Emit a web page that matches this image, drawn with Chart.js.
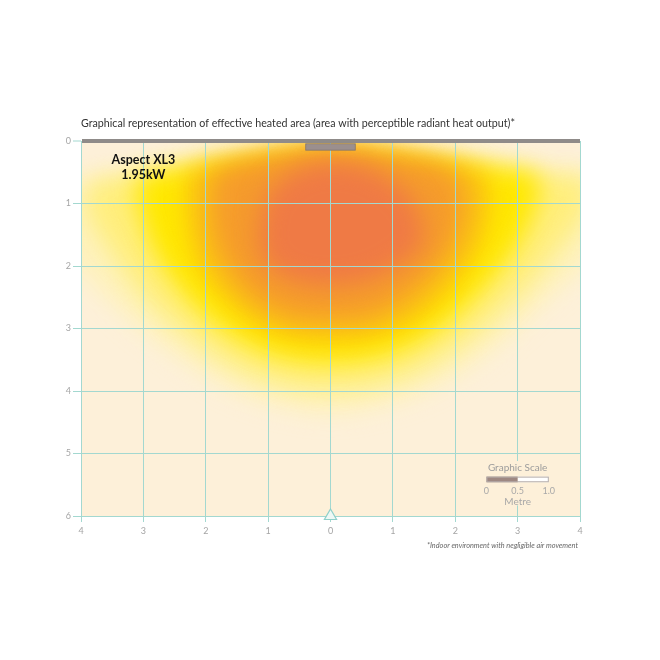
<!DOCTYPE html>
<html>
<head>
<meta charset="utf-8">
<script src="https://cdn.jsdelivr.net/npm/chart.js@4.4.0/dist/chart.umd.min.js"></script>
<style>
body{margin:0;background:#fff;}
canvas{display:block;}
</style>
</head>
<body>
<canvas id="heat" width="660" height="660"></canvas>
<script>
// axis ticks, metres
const xTicks = [-4, -3, -2, -1, 0, 1, 2, 3, 4];
const yTicks = [0, 1, 2, 3, 4, 5, 6];

// heat zones: each is a band between a top edge and a bottom edge (depth in metres)
const coreX   = [-1.15, -1.0, -0.5, 0, 0.5, 1.0, 1.35, 1.5];
const coreTop = [1.5, 0.85, 0.45, 0.35, 0.4, 0.65, 1.0, 1.5];
const coreBot = [1.6, 2.0, 2.25, 2.3, 2.25, 2.05, 1.8, 1.6];

const orangeX   = [-1.9, -1.7, -1.2, -0.6, 0, 0.6, 1.2, 1.8, 2.1];
const orangeTop = [0.6, 0.45, 0.3, 0.18, 0.12, 0.18, 0.28, 0.42, 0.7];
const orangeBot = [1.3, 1.9, 2.5, 2.8, 2.85, 2.8, 2.5, 1.9, 1.3];

const goldX   = [-2.3, -2.1, -1.5, -0.8, 0, 0.8, 1.5, 2.2, 2.5];
const goldTop = [0.6, 0.42, 0.3, 0.2, 0.1, 0.18, 0.27, 0.4, 0.6];
const goldBot = [1.2, 2.0, 2.7, 3.1, 3.2, 3.1, 2.75, 2.0, 1.3];

const yellowX   = [-3.1, -2.8, -2.2, -1.5, -0.8, 0, 0.8, 1.5, 2.2, 2.9, 3.3];
const yellowTop = [0.6, 0.5, 0.4, 0.3, 0.2, 0.1, 0.18, 0.27, 0.36, 0.45, 0.55];
const yellowBot = [1.0, 1.8, 2.6, 3.15, 3.45, 3.55, 3.45, 3.15, 2.6, 1.8, 1.0];

const paleX   = [-3.9, -3.5, -3, -2.2, -1.4, -0.6, 0, 0.6, 1.4, 2.2, 3, 3.6, 4.1];
const paleTop = [0.62, 0.57, 0.5, 0.4, 0.28, 0.16, 0.1, 0.16, 0.26, 0.36, 0.45, 0.52, 0.58];
const paleBot = [1.2, 1.8, 2.5, 3.2, 3.7, 3.95, 4.0, 3.95, 3.7, 3.2, 2.5, 1.8, 1.1];

const faintX   = [-4.3, -3.5, -2.5, -1.5, -0.5, 0, 0.5, 1.5, 2.5, 3.5, 4.3];
const faintTop = [0.7, 0.58, 0.45, 0.3, 0.14, 0.1, 0.14, 0.28, 0.4, 0.5, 0.6];
const faintBot = [1.8, 2.6, 3.4, 4.0, 4.3, 4.35, 4.3, 4.0, 3.4, 2.5, 1.7];

// heater unit and floor marker
const heaterX = [0];
const heaterDepth = [0.04, 0.15];
const markerX = [0];
const markerY = [6];

// texts
const titleText = 'Graphical representation of effective heated area (area with perceptible radiant heat output)*';
const modelName = 'Aspect XL3';
const modelPower = '1.95kW';
const noteText = '*Indoor environment with negligible air movement';
const scaleTitle = 'Graphic Scale';
const scaleLabels = ['0', '0.5', '1.0'];
const scaleUnit = 'Metre';

const cream = '#fdf0d9';
const gridTeal = '#a3d8d0';
const heatBlur = 12;

Chart.defaults.font.family = 'Lato';

// closed outline: along the top edge, back along the bottom edge
function zone(xs, top, bot, color){
  const pts = xs.map((x, i) => ({x: x, y: top[i]}));
  for (let i = xs.length - 1; i >= 0; i--) pts.push({x: xs[i], y: bot[i]});
  return {
    data: pts,
    fill: 'shape',
    backgroundColor: color,
    borderColor: 'rgba(0,0,0,0)',
    borderWidth: 0,
    pointRadius: 0,
    tension: 0.35
  };
}

const datasets = [
  zone(coreX, coreTop, coreBot, '#ef7a45'),
  zone(orangeX, orangeTop, orangeBot, '#f59b2c'),
  zone(goldX, goldTop, goldBot, '#fbc014'),
  zone(yellowX, yellowTop, yellowBot, '#ffe800'),
  zone(paleX, paleTop, paleBot, 'rgba(255,236,90,0.65)'),
  zone(faintX, faintTop, faintBot, 'rgba(255,244,160,0.5)'),
  {
    type: 'bar',
    data: heaterX.map(x => ({x: x, y: heaterDepth})),
    backgroundColor: '#9b8f8e',
    borderColor: '#7d7271',
    borderWidth: 1,
    borderSkipped: false,
    barThickness: 50
  },
  {
    type: 'scatter',
    data: markerX.map((x, i) => ({x: x, y: markerY[i]})),
    pointStyle: 'triangle',
    pointRadius: 7,
    backgroundColor: '#eef8f5',
    borderColor: '#8fd0ca',
    borderWidth: 1.2,
    clip: false
  }
];

const heatPlugin = {
  id: 'heat',
  beforeRender(chart){
    chart.ctx.filter = 'blur(' + heatBlur + 'px)';
  },
  beforeDraw(chart){
    const ctx = chart.ctx, a = chart.chartArea;
    ctx.filter = 'none';
    ctx.save();
    ctx.globalCompositeOperation = 'destination-over';
    ctx.fillStyle = cream;
    ctx.fillRect(a.left, a.top, a.right - a.left, a.bottom - a.top);
    ctx.restore();
  },
  afterDraw(chart){
    const ctx = chart.ctx, a = chart.chartArea;
    const xs = chart.scales.x, ys = chart.scales.y;
    ctx.save();
    // title
    ctx.fillStyle = '#333';
    ctx.font = '10.7px Lato';
    ctx.textBaseline = 'middle';
    ctx.textAlign = 'left';
    ctx.fillText(titleText, a.left, 124);

    // model label
    ctx.fillStyle = '#111';
    ctx.font = 'bold 12.5px Lato';
    ctx.textAlign = 'center';
    ctx.fillText(modelName, xs.getPixelForValue(-3.0), ys.getPixelForValue(0.31));
    ctx.fillText(modelPower, xs.getPixelForValue(-3.0), ys.getPixelForValue(0.54));

    // graphic scale box
    const l = xs.getPixelForValue(2.35), r = xs.getPixelForValue(3.65);
    const t = ys.getPixelForValue(5.12), b = ys.getPixelForValue(5.83);
    ctx.fillStyle = cream;
    ctx.fillRect(l, t, r - l, b - t);
    ctx.fillStyle = '#9c9c9c';
    ctx.font = '10px Lato';
    ctx.fillText(scaleTitle, xs.getPixelForValue(3), ys.getPixelForValue(5.23));
    const b0 = xs.getPixelForValue(2.5), b1 = xs.getPixelForValue(3), b2 = xs.getPixelForValue(3.5);
    const bt = ys.getPixelForValue(5.37), bb = ys.getPixelForValue(5.46);
    ctx.fillStyle = '#fff';
    ctx.fillRect(b1, bt, b2 - b1, bb - bt);
    ctx.fillStyle = '#9e8882';
    ctx.fillRect(b0, bt, b1 - b0, bb - bt);
    ctx.strokeStyle = '#b5acaa';
    ctx.lineWidth = 1;
    ctx.strokeRect(b0 + 0.5, bt + 0.5, b2 - b0 - 1, bb - bt - 1);
    ctx.fillStyle = '#a8a8a8';
    ctx.font = '9px Lato';
    [b0, b1, b2].forEach((px, i) => ctx.fillText(scaleLabels[i], px, ys.getPixelForValue(5.6)));
    ctx.font = '10px Lato';
    ctx.fillText(scaleUnit, b1, ys.getPixelForValue(5.77));

    // footnote
    ctx.fillStyle = '#666';
    ctx.font = 'italic 7.3px Lato';
    ctx.textAlign = 'right';
    ctx.fillText(noteText, a.right - 2, 546);
    ctx.restore();
  }
};

const config = {
  type: 'line',
  data: {datasets: datasets},
  options: {
    responsive: false,
    animation: false,
    events: [],
    layout: {padding: {left: 41, top: 141, right: 80, bottom: 114}},
    plugins: {
      legend: {display: false},
      tooltip: {enabled: false},
      filler: {drawTime: 'beforeDraw'}
    },
    scales: {
      x: {
        type: 'linear', min: -4, max: 4, offset: false,
        afterBuildTicks: s => { s.ticks = xTicks.map(v => ({value: v})); },
        afterFit: s => { s.height = 30; },
        ticks: {
          color: '#a5a5a5', font: {size: 9}, padding: 4,
          callback: v => Math.abs(v)
        },
        grid: {offset: false, color: gridTeal, lineWidth: 1, tickLength: 6, tickColor: gridTeal},
        border: {display: true, color: gridTeal, width: 1}
      },
      y: {
        type: 'linear', min: 0, max: 6, reverse: true,
        afterBuildTicks: s => { s.ticks = yTicks.map(v => ({value: v})); },
        afterFit: s => { s.width = 40; },
        ticks: {color: '#a5a5a5', font: {size: 9}, padding: 2},
        grid: {
          color: c => c.tick && c.tick.value === 0 ? '#8f8b89' : gridTeal,
          lineWidth: c => c.tick && c.tick.value === 0 ? 4 : 1,
          tickLength: 8, tickColor: gridTeal, tickWidth: 1
        },
        border: {display: true, color: gridTeal, width: 1}
      }
    }
  },
  plugins: [heatPlugin]
};

const chart = new Chart(document.getElementById('heat'), config);
</script>
</body>
</html>
